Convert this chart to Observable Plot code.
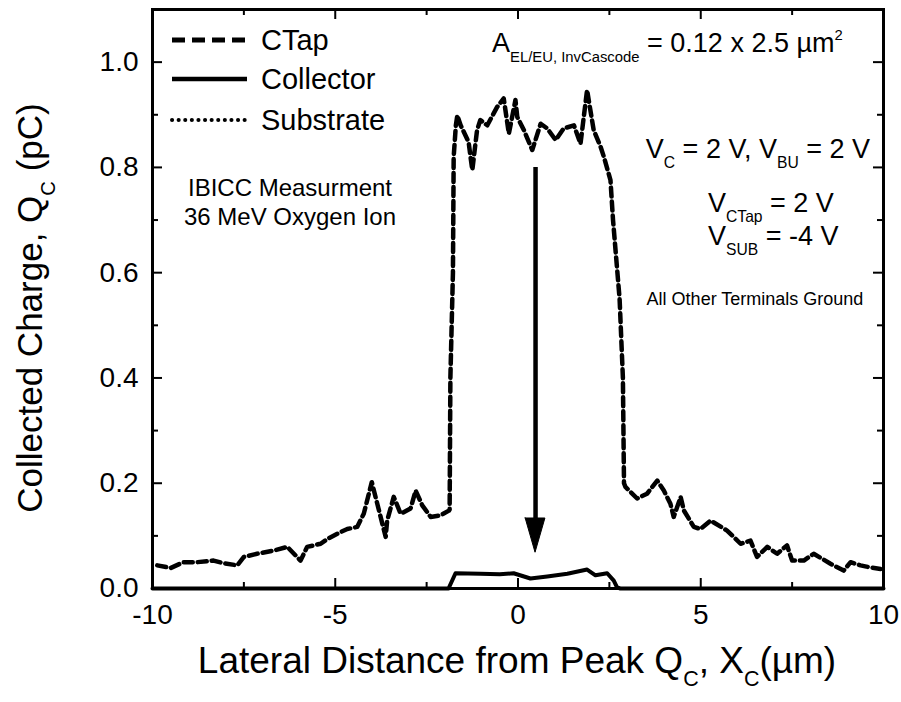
<!DOCTYPE html>
<html><head><meta charset="utf-8">
<script src="https://cdn.jsdelivr.net/npm/d3@7"></script>
<script src="https://cdn.jsdelivr.net/npm/@observablehq/plot@0.6"></script>
<style>body{margin:0;background:#fff} svg{display:block}</style>
</head><body><div id="chart"></div>
<script>
// ---- data ----
const ctapX = [-9.87,-9.5,-9.15,-8.78,-8.33,-8.06,-7.68,-7.5,-7.14,-6.69,-6.31,-5.95,-5.77,-5.4,-5.22,-4.86,-4.67,-4.4,-4.22,-4.0,-3.85,-3.62,-3.58,-3.4,-3.21,-2.94,-2.8,-2.62,-2.39,-2.12,-1.89,-1.87,-1.85,-1.78,-1.76,-1.7,-1.66,-1.57,-1.35,-1.3,-1.25,-1.12,-1.03,-0.84,-0.57,-0.39,-0.25,-0.07,-0.02,0.16,0.39,0.62,0.8,1.03,1.25,1.53,1.71,1.89,2.07,2.26,2.35,2.53,2.6,2.78,2.87,2.9,2.94,3.26,3.53,3.81,3.99,4.17,4.26,4.45,4.54,4.81,4.99,5.27,5.72,6.09,6.36,6.54,6.82,7.09,7.36,7.5,7.82,8.09,8.55,8.91,9.1,9.37,9.64,9.92];
const ctapY = [0.044,0.039,0.05,0.05,0.053,0.048,0.044,0.06,0.066,0.072,0.079,0.053,0.079,0.085,0.094,0.107,0.113,0.117,0.142,0.202,0.161,0.098,0.129,0.174,0.142,0.152,0.186,0.158,0.136,0.139,0.148,0.15,0.4,0.6,0.82,0.88,0.899,0.88,0.848,0.82,0.795,0.871,0.89,0.88,0.915,0.931,0.864,0.928,0.896,0.871,0.833,0.883,0.874,0.852,0.874,0.88,0.845,0.947,0.871,0.839,0.82,0.776,0.7,0.55,0.4,0.2,0.193,0.171,0.18,0.205,0.186,0.161,0.136,0.174,0.148,0.117,0.113,0.129,0.11,0.085,0.091,0.06,0.079,0.066,0.082,0.053,0.053,0.066,0.047,0.034,0.05,0.044,0.04,0.037];
const collX = [-10,-1.9,-1.71,-1.03,-0.5,-0.12,0.34,0.8,1.35,1.89,2.12,2.44,2.62,2.71,2.8,10];
const collY = [0,0,0.029,0.028,0.027,0.029,0.019,0.023,0.028,0.036,0.025,0.029,0.015,0.002,0,0];
const subX = [-10,10];
const subY = [0,0];
const xTicks = [-10,-5,0,5,10];
const xMinor = [-7.5,-2.5,2.5,7.5];
const yTicks = [0,0.2,0.4,0.6,0.8,1.0];
const yMinor = [0.1,0.3,0.5,0.7,0.9];
const arrowX = 0.48, arrowTop = 0.8, arrowHeadBase = 0.133, arrowTip = 0.068, arrowHalf = 0.27;

const ctap = ctapX.map((x,i)=>({x, y: ctapY[i]}));
const coll = collX.map((x,i)=>({x, y: collY[i]}));
const sub = subX.map((x,i)=>({x, y: subY[i]}));
const head = [
  {x: arrowX-arrowHalf, y1: arrowHeadBase, y2: arrowHeadBase},
  {x: arrowX, y1: arrowTip, y2: arrowHeadBase},
  {x: arrowX+arrowHalf, y1: arrowHeadBase, y2: arrowHeadBase}
];

// ---- layout ----
const W=901, H=702, mL=152, mR=18, mT=9, mB=114;
const iw = W-mL-mR, ih = H-mT-mB;
const FONT = "'Liberation Sans', Arial, Helvetica, sans-serif";

const plot = Plot.plot({
  width: W, height: H,
  marginLeft: mL, marginRight: mR, marginTop: mT, marginBottom: mB,
  style: {fontFamily: FONT, fontSize: "28px", background: "#fff", color: "black"},
  x: {domain: [-10,10]},
  y: {domain: [0,1.1]},
  marks: [
    Plot.line(sub, {x:"x", y:"y", stroke:"black", strokeWidth:3, strokeDasharray:"0.1,6", strokeLinecap:"round"}),
    Plot.line(coll, {x:"x", y:"y", stroke:"black", strokeWidth:4, strokeLinejoin:"round"}),
    Plot.line(ctap, {x:"x", y:"y", stroke:"black", strokeWidth:4.5, strokeDasharray:"9,5", strokeLinejoin:"round", strokeLinecap:"round"}),
    Plot.ruleX([arrowX], {x: d=>d, y1: arrowTop, y2: arrowHeadBase, stroke:"black", strokeWidth:4.5}),
    Plot.areaY(head, {x:"x", y1:"y1", y2:"y2", fill:"black", stroke:"black", strokeWidth:1}),
    Plot.frame({stroke:"black", strokeWidth:3}),
    Plot.tickX(xTicks, {x: d=>d, insetTop: ih-10, stroke:"black", strokeWidth:2}),
    Plot.tickX(xTicks, {x: d=>d, insetBottom: ih-10, stroke:"black", strokeWidth:2}),
    Plot.tickX(xMinor, {x: d=>d, insetTop: ih-6, stroke:"black", strokeWidth:2}),
    Plot.tickX(xMinor, {x: d=>d, insetBottom: ih-6, stroke:"black", strokeWidth:2}),
    Plot.tickY(yTicks, {y: d=>d, insetRight: iw-10, stroke:"black", strokeWidth:2}),
    Plot.tickY(yTicks, {y: d=>d, insetLeft: iw-10, stroke:"black", strokeWidth:2}),
    Plot.tickY(yMinor, {y: d=>d, insetRight: iw-6, stroke:"black", strokeWidth:2}),
    Plot.tickY(yMinor, {y: d=>d, insetLeft: iw-6, stroke:"black", strokeWidth:2}),
    Plot.axisX({ticks: xTicks, tickSize: 0, tickPadding: 16, tickFormat: d => String(d), label: null, fill: "black"}),
    Plot.axisY({ticks: yTicks, tickSize: 0, tickPadding: 14, tickFormat: d3.format(".1f"), label: null, fill: "black"})
  ]
});
document.getElementById("chart").appendChild(plot);

// ---- annotations with sub/superscripts ----
const svg = d3.select(plot);
function plain({x, y, size, anchor="start", text}) {
  svg.append("text").attr("x", x).attr("y", y).attr("font-size", size)
    .attr("text-anchor", anchor).attr("font-family", FONT).attr("fill", "black").text(text);
}
function rich({x, y, size, anchor="start", rotate=0, parts, subScale=0.58, subShift=0.36, supShift=-0.45}) {
  const t = svg.append("text").attr("x", x).attr("y", y)
    .attr("font-size", size).attr("text-anchor", anchor).attr("fill", "black")
    .attr("font-family", FONT).style("white-space", "pre");
  if (rotate) t.attr("transform", `rotate(${rotate},${x},${y})`);
  let cur = 0;
  for (const [s, kind] of parts) {
    const shift = kind === "sub" ? subShift*size : kind === "sup" ? supShift*size : 0;
    t.append("tspan").text(s).attr("dy", shift - cur)
      .attr("font-size", kind === "n" ? size : size*subScale);
    cur = shift;
  }
}

// legend
const legend = [
  {label: "CTap", y: 40, dash: "13,7", w: 5, cap: "butt"},
  {label: "Collector", y: 79, dash: null, w: 4.5, cap: "butt"},
  {label: "Substrate", y: 120, dash: "0.1,6.5", w: 4, cap: "round"}
];
for (const L of legend) {
  const ln = svg.append("line").attr("x1", 172).attr("x2", 247).attr("y1", L.y).attr("y2", L.y)
    .attr("stroke", "black").attr("stroke-width", L.w).attr("stroke-linecap", L.cap);
  if (L.dash) ln.attr("stroke-dasharray", L.dash);
  plain({x: 261, y: L.y + 10, size: 29, text: L.label});
}

rich({x: 492, y: 52, size: 27, parts: [["A","n"],["EL/EU, InvCascode","sub"],[" = 0.12 x 2.5 \u00b5m","n"],["2","sup"]], subScale: 0.55});
rich({x: 870, y: 158, size: 27, anchor: "end", parts: [["V","n"],["C","sub"],[" = 2 V, V","n"],["BU","sub"],[" = 2 V","n"]]});
rich({x: 708, y: 212, size: 27, parts: [["V","n"],["CTap","sub"],[" = 2 V","n"]]});
rich({x: 708, y: 245, size: 27, parts: [["V","n"],["SUB","sub"],[" = -4 V","n"]]});
plain({x: 755, y: 305, size: 18, anchor: "middle", text: "All Other Terminals Ground"});
plain({x: 290, y: 196, size: 24, anchor: "middle", text: "IBICC Measurment"});
plain({x: 290, y: 225, size: 24, anchor: "middle", text: "36 MeV Oxygen Ion"});

// axis titles
rich({x: 517, y: 673, size: 37, anchor: "middle", parts: [["Lateral Distance from Peak Q","n"],["C","sub"],[", X","n"],["C","sub"],["(\u00b5m)","n"]]});
rich({x: 42, y: 308, size: 35, anchor: "middle", rotate: -90, parts: [["Collected Charge, Q","n"],["C","sub"],[" (pC)","n"]]});
</script>
</body></html>
